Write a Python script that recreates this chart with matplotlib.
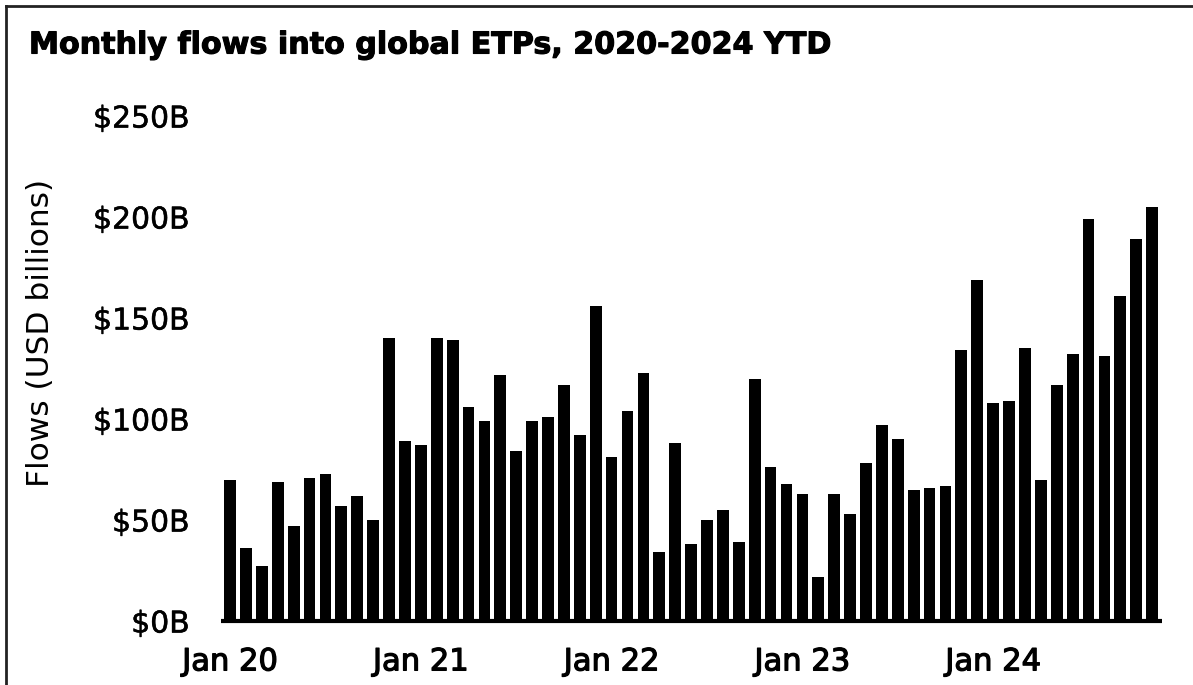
import matplotlib
matplotlib.use("Agg")
import matplotlib.pyplot as plt
from matplotlib.lines import Line2D
import matplotlib.patheffects as pe

# ---- data (USD billions) ----
months = [f"{m} {y}" for y in range(2020, 2025) for m in
          ["Jan", "Feb", "Mar", "Apr", "May", "Jun", "Jul", "Aug", "Sep", "Oct", "Nov", "Dec"]][:59]
flows_2020 = [70, 36, 27, 69, 47, 71, 73, 57, 62, 50, 140, 89]
flows_2021 = [87, 140, 139, 106, 99, 122, 84, 99, 101, 117, 92, 156]
flows_2022 = [81, 104, 123, 34, 88, 38, 50, 55, 39, 120, 76, 68]
flows_2023 = [63, 22, 63, 53, 78, 97, 90, 65, 66, 67, 134, 169]
flows_2024 = [108, 109, 135, 70, 117, 132, 199, 131, 161, 189, 205]
flows = flows_2020 + flows_2021 + flows_2022 + flows_2023 + flows_2024

tick_labels = ["Jan 20", "Jan 21", "Jan 22", "Jan 23", "Jan 24"]
y_ticks = [0, 50, 100, 150, 200, 250]
y_tick_labels = ["$0B", "$50B", "$100B", "$150B", "$200B", "$250B"]

title = "Monthly flows into global ETPs, 2020-2024 YTD"
y_label = "Flows (USD billions)"

# ---- figure ----
W, H = 1193, 685
fig = plt.figure(figsize=(W / 100, H / 100), dpi=100)
ax = fig.add_axes([220.5 / W, (H - 621) / H, (1161.7 - 220.5) / W, (621 - 116) / H])

x = list(range(len(flows)))
ax.bar(x, flows, width=0.74, color="black", zorder=2)

ax.set_xlim(-0.6, len(flows) - 0.4)
ax.set_ylim(0, 250)

ax.set_xticks([months.index(f"Jan {y}") for y in range(2020, 2025)])
ax.set_xticklabels(tick_labels, fontsize=22, family="DejaVu Sans",
                   path_effects=[pe.withStroke(linewidth=0.9, foreground="black")])
ax.set_yticks(y_ticks)
ax.set_yticklabels(y_tick_labels, fontsize=21.5, family="DejaVu Sans",
                   path_effects=[pe.withStroke(linewidth=0.4, foreground="black")])
ax.tick_params(axis="both", length=0)
ax.tick_params(axis="y", pad=22)
ax.tick_params(axis="x", pad=19)

for s in ["top", "right", "left"]:
    ax.spines[s].set_visible(False)
ax.spines["bottom"].set_linewidth(3)
ax.spines["bottom"].set_color("black")
ax.spines["bottom"].set_capstyle("butt")

fig.text(41 / W, (H - 333) / H, y_label, rotation=90, ha="center", va="center",
         fontsize=22.5, family="DejaVu Sans")
fig.text(29 / W, (H - 45) / H, title, ha="left", va="center",
         fontsize=21.7, family="DejaVu Sans", fontweight="bold",
         path_effects=[pe.withStroke(linewidth=0.8, foreground="black")])

# frame lines (top and left)
fig.add_artist(Line2D([6 / W, 1], [1 - 6 / H, 1 - 6 / H], transform=fig.transFigure,
                      color="#222222", lw=2))
fig.add_artist(Line2D([6 / W, 6 / W], [0, 1 - 6 / H], transform=fig.transFigure,
                      color="#222222", lw=2))

fig.savefig("out.png", dpi=100, facecolor="white")
